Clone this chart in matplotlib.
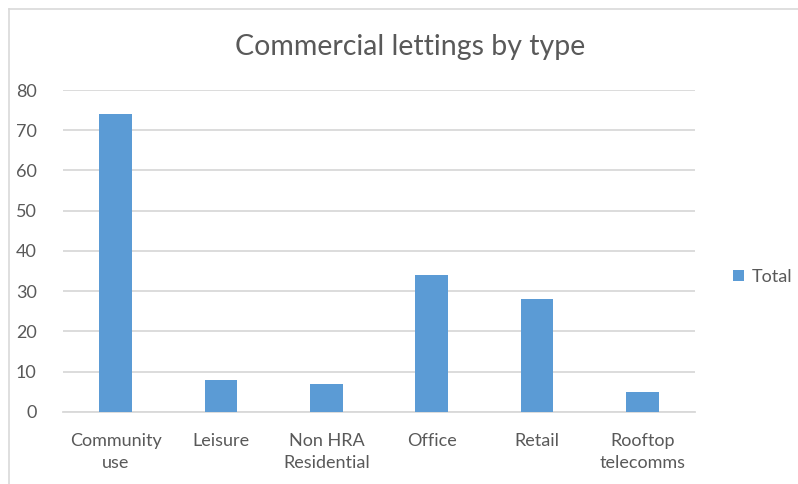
import matplotlib.pyplot as plt
from matplotlib.lines import Line2D
import numpy as np

categories = ['Community\nuse', 'Leisure', 'Non HRA\nResidential', 'Office', 'Retail', 'Rooftop\ntelecomms']
totals = [74, 8, 7, 34, 28, 5]
y_ticks = [0, 10, 20, 30, 40, 50, 60, 70, 80]

plt.rcParams['font.family'] = ['Lato', 'DejaVu Sans']
text_color = '#595959'
bar_color = '#5B9BD5'
grid_color = '#D9D9D9'

fig = plt.figure(figsize=(7.98, 4.84), dpi=100)
ax = fig.add_axes([0.079, 0.149, 0.792, 0.665])

x = np.arange(len(categories))
ax.bar(x, totals, width=0.31, color=bar_color, label='Total', zorder=3)

ax.set_xlim(-0.5, len(categories) - 0.5)
ax.set_ylim(0, 80)
ax.set_yticks(y_ticks)
ax.set_xticks(x)
ax.set_xticklabels(categories, linespacing=1.5)
ax.grid(axis='y', color=grid_color, linewidth=1.3, zorder=0)
for side in ['top', 'right', 'left']:
    ax.spines[side].set_visible(False)
ax.spines['bottom'].set_color(grid_color)
ax.spines['bottom'].set_linewidth(1.3)
ax.tick_params(axis='both', length=0, colors=text_color, labelsize=13)
ax.tick_params(axis='y', pad=19)
ax.tick_params(axis='x', pad=15)
for lbl in ax.get_xticklabels():
    lbl.set_verticalalignment('top')

fig.text(0.514, 0.903, 'Commercial lettings by type', ha='center', va='center',
         fontsize=20.5, color=text_color)

ax.legend(loc='center left', bbox_to_anchor=(1.035, 0.42), frameon=False,
          fontsize=13, labelcolor=text_color, handlelength=0.6, handleheight=0.6,
          handletextpad=0.4)

# chart frame (only top and left edges visible in the crop)
fig.add_artist(Line2D([9 / 798, 1], [1 - 9 / 484, 1 - 9 / 484], color='#D9D9D9', linewidth=1.2))
fig.add_artist(Line2D([9 / 798, 9 / 798], [0, 1 - 9 / 484], color='#D9D9D9', linewidth=1.2))

fig.savefig('out.png', dpi=100)
